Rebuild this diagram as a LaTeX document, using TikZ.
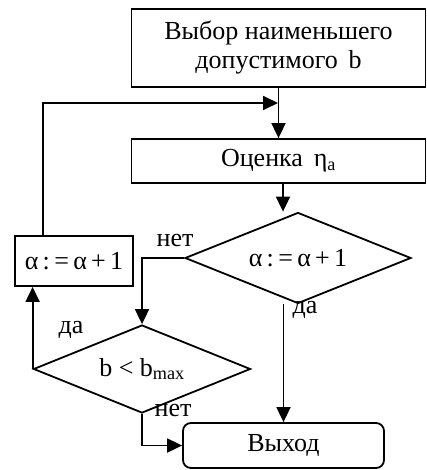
\documentclass[tikz,border=0pt]{standalone}
\usepackage{fontspec}
\setmainfont{Liberation Serif}
\usetikzlibrary{shapes.geometric,arrows.meta}

\begin{document}
\begin{tikzpicture}[x=1pt,y=-1pt,
    line width=1.8pt,
    font=\fontsize{26}{29}\selectfont,
    arr/.style={-{Triangle[length=15pt,width=14pt]}},
    blockbox/.style={draw,rectangle,inner sep=0pt},
    decision/.style={draw,diamond,aspect=2.5,inner sep=0pt},
    lbl/.style={inner sep=0pt}]
  \useasboundingbox (0,0) rectangle (427,470);

  % Blocks
  \node[blockbox, minimum width=294pt, minimum height=78pt, align=center]
    (sel) at (278.5,48) {Выбор наименьшего\\допустимого\, b};
  \node[blockbox, minimum width=294pt, minimum height=44pt]
    (est) at (278.5,161) {Оценка\, η\textsubscript{a}};
  \node[decision, minimum width=226pt, minimum height=91pt]
    (d1) at (298,258) {α\,:\,=\,α\,+\,1};
  \node[blockbox, minimum width=118pt, minimum height=50pt]
    (inc) at (74,261) {α\,:\,=\,α\,+\,1};
  \node[decision, minimum width=217pt, minimum height=88pt]
    (d2) at (142,369) {b < b\textsubscript{max}};
  \node[blockbox, rounded corners=8pt, minimum width=201pt, minimum height=45pt]
    (out) at (283.5,445.5) {Выход};

  % Helper points
  \coordinate (m) at (278,103);
  \coordinate (lp) at (43,103);
  \coordinate (c1) at (283,0);

  % Connectors
  \draw[arr] (sel.south) -- (est.north);
  \draw[arr] (inc.north -| lp) |- (m);
  \draw[arr] (est.south -| c1) -- (c1 |- d1.north);
  \draw[arr] (d1.west) -| (d2.north);
  \draw[arr] (d2.west) -- (d2.west |- inc.south);
  \draw[arr] (d2.south) |- (out.west);
  \draw[arr] (d1.south -| out.north) -- (out.north);

  % Labels
  \node[lbl] (n1) at (175,240) {нет};
  \node[lbl] (y1) at (305,310) {да};
  \node[lbl] (y2) at (71,330) {да};
  \node[lbl] (n2) at (173,410) {нет};
\end{tikzpicture}
\end{document}
